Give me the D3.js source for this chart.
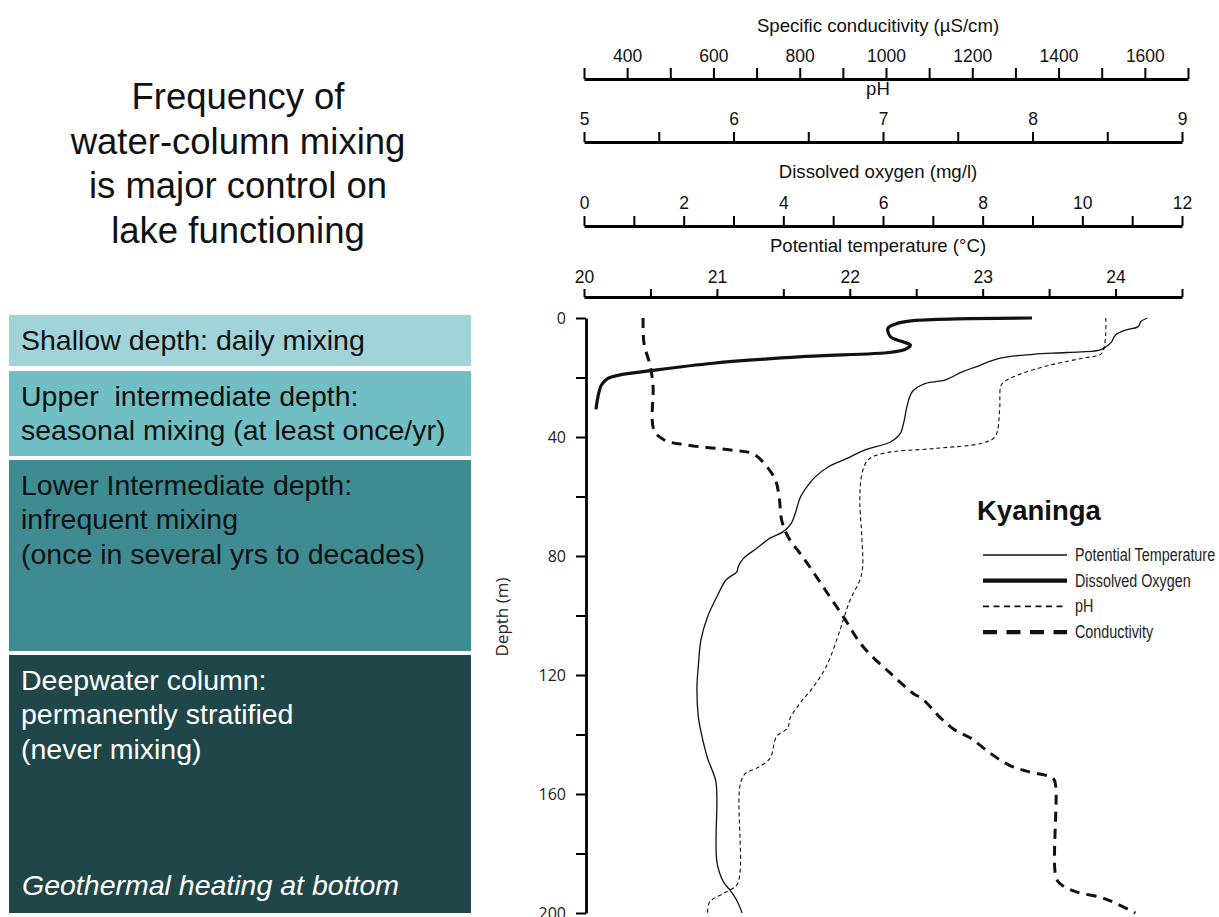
<!DOCTYPE html>
<html>
<head>
<meta charset="utf-8">
<script src="https://cdn.jsdelivr.net/npm/d3@7"></script>
<style>
  body { margin: 0; background: #fff; }
  svg { display: block; }
</style>
</head>
<body>
<svg id="chart" width="1219" height="917" font-family='"Liberation Sans", Arial, sans-serif'></svg>
<script>
// profiles: [depth (m), value]
const tempProfile = [
    [0, 24.24], [1.2, 24.19], [2.9, 24.17], [4, 24.08], [5.7, 24.0], [8, 23.97],
    [9.6, 23.93], [10.8, 23.88], [11.6, 23.63], [12.2, 23.38], [13.5, 23.13],
    [16.4, 22.95], [18, 22.85], [20.8, 22.72], [22, 22.57], [24.8, 22.47],
    [29.8, 22.43], [34.3, 22.41], [38.8, 22.38], [41.6, 22.31], [44.4, 22.11],
    [47.2, 21.98], [50, 21.84], [53.4, 21.74], [56, 21.69], [60.1, 21.63],
    [65.6, 21.59], [69, 21.56], [71.8, 21.50], [74, 21.40], [77.4, 21.30],
    [80.8, 21.20], [83.6, 21.16], [85.3, 21.15], [88, 21.07], [93.7, 21.0],
    [100.4, 20.93], [108.2, 20.88], [117.2, 20.86], [123.9, 20.85], [134, 20.86],
    [139, 20.88], [148, 20.93], [155.3, 20.99], [161.3, 21.0], [182.8, 21.0],
    [189.6, 21.05], [192.4, 21.10], [195.8, 21.15], [200, 21.19]
];
const oxygenProfile = [
    [0, 8.99], [0.9, 6.6], [2, 6.25], [3.4, 6.1], [6.3, 6.15], [8, 6.4],
    [9.1, 6.55], [10.5, 6.45], [11.5, 6.17], [13, 4.38], [15.2, 2.59],
    [17.7, 1.34], [19.2, 0.7], [20.3, 0.48], [22.5, 0.35], [26.5, 0.28], [30.7, 0.24]
];
const phProfile = [
    [0, 8.49], [5.2, 8.49], [9.6, 8.48], [11.3, 8.47], [12.4, 8.45], [13.5, 8.34],
    [15.8, 8.12], [19.2, 7.9], [21.9, 7.8], [23.5, 7.785], [30.9, 7.78],
    [39.9, 7.75], [42.1, 7.66], [43.8, 7.36], [45.5, 7.0], [47.7, 6.9],
    [52.2, 6.86], [61.2, 6.845], [72.4, 6.857], [83.6, 6.864], [88, 6.846],
    [94.8, 6.78], [101.5, 6.734], [108.2, 6.69], [117.2, 6.62], [124, 6.534],
    [129.5, 6.445], [134.6, 6.378], [137.8, 6.363], [140.7, 6.288], [148, 6.244],
    [151.3, 6.155], [153.1, 6.08], [157, 6.044], [186.2, 6.044], [190.7, 6.02],
    [193.5, 5.93], [196.3, 5.84], [200, 5.827]
];
const condProfile = [
    [0, 437], [8.4, 439], [16.4, 454], [23, 460], [37.6, 462], [41, 486],
    [42.7, 538], [44.4, 640], [45.7, 693], [50, 724], [54.5, 744], [61, 753],
    [67.9, 758], [73.5, 773], [81.3, 812], [90.3, 854], [100.4, 901],
    [110.5, 947], [119.4, 1010], [126.2, 1063], [128, 1084], [134.5, 1127],
    [138.4, 1159], [141.2, 1196], [146.3, 1242], [150.2, 1284], [152.5, 1330],
    [154.7, 1387], [157, 1393], [187.3, 1393], [190.1, 1403], [193, 1443],
    [194.6, 1495], [196.3, 1526], [200, 1578]
];

const depthTicks = d3.range(0, 201, 20);
const depthLabels = [0, 40, 80, 120, 160, 200];
const condTicks = d3.range(300, 1701, 100);
const condLabels = [400, 600, 800, 1000, 1200, 1400, 1600];
const phTicks = d3.range(5, 9.01, 0.5);
const phLabels = [5, 6, 7, 8, 9];
const oxyTicks = d3.range(0, 13, 1);
const oxyLabels = [0, 2, 4, 6, 8, 10, 12];
const tempTicks = d3.range(20, 24.51, 0.5);
const tempLabels = [20, 21, 22, 23, 24];

const titleLines = ["Frequency of", "water-column mixing", "is major control on", "lake functioning"];
const zoneLines = [
    ["Shallow depth: daily mixing"],
    ["Upper  intermediate depth:", "seasonal mixing (at least once/yr)"],
    ["Lower Intermediate depth:", "infrequent mixing", "(once in several yrs to decades)"],
    ["Deepwater column:", "permanently stratified", "(never mixing)"]
];
const zoneNote = "Geothermal heating at bottom";
const legendNames = ["Potential Temperature", "Dissolved Oxygen", "pH", "Conductivity"];

const svg = d3.select('#chart');

// ---- left panel ----
svg.append('g')
    .selectAll('text')
    .data(titleLines)
    .enter()
    .append('text')
    .attr('x', 238)
    .attr('y', (d, i) => 109 + i * 44.7)
    .attr('text-anchor', 'middle')
    .attr('font-size', 36.5)
    .attr('fill', '#111')
    .text(d => d);

const zoneY = [[315, 366], [371, 456], [460, 651], [655, 913]];
const zoneFill = ['#a0d4d8', '#71bec4', '#3e8c91', '#1f4649'];
const zoneInk = ['#111', '#111', '#111', '#fff'];

const zones = svg.append('g')
    .selectAll('g')
    .data(zoneLines)
    .enter()
    .append('g');

zones.append('rect')
    .attr('x', 9)
    .attr('y', (d, i) => zoneY[i][0])
    .attr('width', 462)
    .attr('height', (d, i) => zoneY[i][1] - zoneY[i][0])
    .attr('fill', (d, i) => zoneFill[i]);

zones.each(function (lines, i) {
    d3.select(this).selectAll('text')
        .data(lines)
        .enter()
        .append('text')
        .attr('x', 21)
        .attr('y', (d, j) => zoneY[i][0] + 34.5 + j * 34.5)
        .attr('font-size', 28.5)
        .attr('fill', zoneInk[i])
        .style('white-space', 'pre')
        .text(d => d);
});

svg.append('text')
    .attr('x', 22)
    .attr('y', 895)
    .attr('font-size', 28.5)
    .attr('font-style', 'italic')
    .attr('fill', '#fff')
    .text(zoneNote);

// ---- profile chart ----
const left = 584;
const yScale = d3.scaleLinear().domain([0, 200]).range([318, 913]);
const condScale = d3.scaleLinear().domain([300, 1700]).range([left, 1188]);
const phScale = d3.scaleLinear().domain([5, 9]).range([left, 1182]);
const oxyScale = d3.scaleLinear().domain([0, 12]).range([left, 1182]);
const tempScale = d3.scaleLinear().domain([20, 24.5]).range([left, 1182]);

const topAxes = [
    { scale: condScale, y: 79, ticks: condTicks, labels: condLabels, size: 11, pad: 6,
      title: 'Specific conducitivity (\u00b5S/cm)', titleY: 32 },
    { scale: phScale, y: 142, ticks: phTicks, labels: phLabels, size: 10, pad: 7,
      title: 'pH', titleY: 95 },
    { scale: oxyScale, y: 226, ticks: oxyTicks, labels: oxyLabels, size: 10, pad: 7,
      title: 'Dissolved oxygen (mg/l)', titleY: 178 },
    { scale: tempScale, y: 297, ticks: tempTicks, labels: tempLabels, size: 8, pad: 6,
      title: 'Potential temperature (\u00b0C)', titleY: 252 }
];

topAxes.forEach(ax => {
    const g = svg.append('g')
        .attr('transform', `translate(0, ${ax.y})`)
        .call(d3.axisTop(ax.scale)
            .tickValues(ax.ticks)
            .tickSize(ax.size)
            .tickSizeOuter(0)
            .tickPadding(ax.pad)
            .tickFormat(v => ax.labels.some(l => Math.abs(l - v) < 1e-6) ? d3.format('d')(v) : ''));
    g.attr('font-family', null).attr('font-size', null);
    g.select('.domain').attr('stroke-width', 2.8);
    g.selectAll('.tick line').attr('stroke-width', 2);
    g.selectAll('.tick text')
        .attr('font-size', 17.5)
        .attr('fill', '#111');

    svg.append('text')
        .attr('x', 878)
        .attr('y', ax.titleY)
        .attr('text-anchor', 'middle')
        .attr('font-size', 18.6)
        .attr('fill', '#111')
        .text(ax.title);
});

// depth axis
const yAxis = svg.append('g')
    .attr('transform', 'translate(586, 0)')
    .call(d3.axisLeft(yScale)
        .tickValues(depthTicks)
        .tickSize(10)
        .tickSizeOuter(0)
        .tickPadding(10)
        .tickFormat(v => depthLabels.includes(v) ? v : ''));
yAxis.attr('font-family', '"Open Sans", sans-serif').attr('font-size', 16);
yAxis.select('.domain').attr('stroke-width', 2.8);
yAxis.selectAll('.tick line').attr('stroke-width', 2);
yAxis.selectAll('.tick text').attr('fill', '#222');

svg.append('text')
    .attr('transform', 'translate(508, 617) rotate(-90)')
    .attr('text-anchor', 'middle')
    .attr('font-family', '"Open Sans", sans-serif')
    .attr('font-size', 17)
    .attr('fill', '#222')
    .text('Depth (m)');

const series = [
    { data: tempProfile, scale: tempScale, width: 1.3, dash: null, legendWidth: 1.6, legendDash: null },
    { data: oxygenProfile, scale: oxyScale, width: 3.2, dash: null, legendWidth: 4.2, legendDash: null },
    { data: phProfile, scale: phScale, width: 1.1, dash: '4,3', legendWidth: 1.6, legendDash: '6,4.5' },
    { data: condProfile, scale: condScale, width: 3, dash: '10,7', legendWidth: 4.2, legendDash: '14,9.5' }
];

const plot = svg.append('g');
series.forEach(s => {
    const line = d3.line()
        .x(d => s.scale(d[1]))
        .y(d => yScale(d[0]))
        .curve(d3.curveCatmullRom.alpha(0.5));
    plot.append('path')
        .datum(s.data)
        .attr('d', line)
        .attr('fill', 'none')
        .attr('stroke', '#111')
        .attr('stroke-width', s.width)
        .attr('stroke-dasharray', s.dash);
});

// legend
const legend = svg.append('g');
legend.append('text')
    .attr('x', 977)
    .attr('y', 520)
    .attr('font-size', 27.5)
    .attr('font-weight', 'bold')
    .attr('fill', '#111')
    .text('Kyaninga');

const rows = legend.selectAll('g.row')
    .data(legendNames)
    .enter()
    .append('g')
    .attr('class', 'row')
    .attr('transform', (d, i) => `translate(0, ${555 + i * 25.7})`);

rows.append('line')
    .attr('x1', 983)
    .attr('x2', 1067)
    .attr('stroke', '#111')
    .attr('stroke-width', (d, i) => series[i].legendWidth)
    .attr('stroke-dasharray', (d, i) => series[i].legendDash);

// narrow face: squeeze the glyphs horizontally
rows.append('text')
    .attr('transform', 'translate(1075, 6) scale(0.82, 1)')
    .attr('font-size', 17.5)
    .attr('fill', '#222')
    .text(d => d);
</script>
</body>
</html>
